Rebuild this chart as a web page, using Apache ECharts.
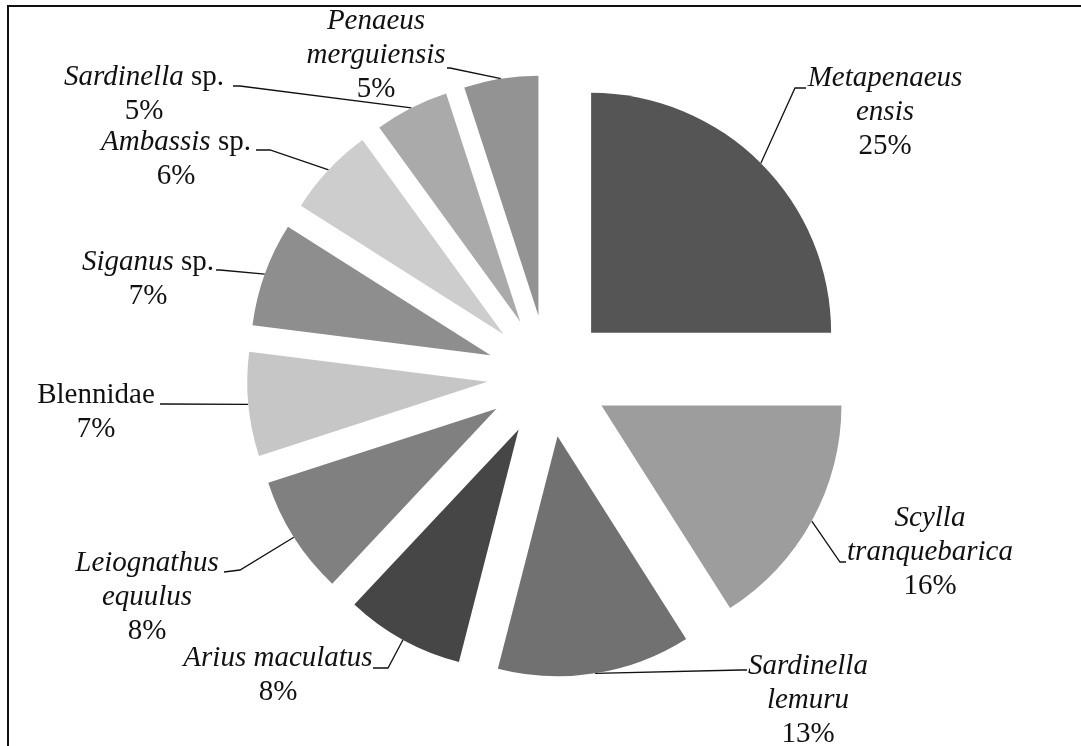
<!DOCTYPE html>
<html>
<head>
<meta charset="utf-8">
<script src="https://cdn.jsdelivr.net/npm/echarts@6/dist/echarts.min.js"></script>
<style>
  html, body { margin: 0; padding: 0; background: #fff; overflow: hidden; }
  #frame { position: absolute; left: 7px; top: 5px; width: 1200px; height: 900px;
           border-left: 2px solid #111; border-top: 2px solid #111; }
  #main { position: absolute; left: 0; top: 0; width: 1081px; height: 746px; }
</style>
</head>
<body>
<div id="frame"></div>
<div id="main"></div>
<script>
// catch composition, share of each taxon (%)
const species = ['Metapenaeus ensis', 'Scylla tranquebarica', 'Sardinella lemuru', 'Arius maculatus',
  'Leiognathus equulus', 'Blennidae', 'Siganus sp.', 'Ambassis sp.', 'Sardinella sp.', 'Penaeus merguiensis'];
const shares = [25, 16, 13, 8, 8, 7, 7, 6, 5, 5];
const greys = ['#555555', '#9d9d9d', '#717171', '#464646', '#808080', '#c6c6c6', '#8e8e8e', '#cdcdcd', '#aaaaaa', '#939393'];

// how each name is broken over lines: i = italic, n = upright
const nameLines = [
  ['{i|Metapenaeus}', '{i|ensis}'],
  ['{i|Scylla}', '{i|tranquebarica}'],
  ['{i|Sardinella}', '{i|lemuru}'],
  ['{i|Arius maculatus}'],
  ['{i|Leiognathus}', '{i|equulus}'],
  ['{n|Blennidae}'],
  ['{i|Siganus}{n| sp.}'],
  ['{i|Ambassis}{n| sp.}'],
  ['{i|Sardinella}{n| sp.}'],
  ['{i|Penaeus}', '{i|merguiensis}']
];

const pieCenter = [548, 376];
const pieRadius = 240;
const explode = 61;

// label placement: centre x, top y, then elbow and end of the leader line
const spots = [
  [885, 61, [795, 88], [806, 88]],
  [930, 501, [840, 562], [846, 562]],
  [808, 649, [741, 670], [747, 670]],
  [278, 641, [388, 668], [373, 668]],
  [147, 546, [240, 570], [224, 572]],
  [96, 378, [165, 404], [160, 404]],
  [148, 245, [220, 270], [216, 270]],
  [176, 125, [270, 150], [256, 150]],
  [144, 60, [240, 86], [233, 86]],
  [376, 4, [450, 68], [447, 68]]
];

const chart = echarts.init(document.getElementById('main'));

const font = 'Liberation Serif, Times New Roman, serif';
const pieData = species.map((name, i) => ({ name: name, value: shares[i] }));

chart.setOption({
  animation: false,
  series: [{
    // the exploded slices
    type: 'pie',
    center: pieCenter,
    radius: pieRadius,
    startAngle: 90,
    clockwise: true,
    silent: true,
    selectedMode: 'multiple',
    selectedOffset: explode,
    data: pieData.map((d, i) => ({ ...d, selected: true, itemStyle: { color: greys[i] } })),
    label: { show: false },
    labelLine: { show: false },
    select: { itemStyle: { borderWidth: 0 } }
  }, {
    // same pie, invisible, only carries the labels and leader lines
    type: 'pie',
    center: pieCenter,
    radius: pieRadius,
    startAngle: 90,
    clockwise: true,
    silent: true,
    data: pieData,
    itemStyle: { color: 'rgba(0,0,0,0)' },
    label: {
      show: true,
      position: 'outside',
      formatter: p => nameLines[p.dataIndex].join('\n') + '\n{n|' + Math.round(p.percent) + '%}',
      rich: {
        i: { fontFamily: font, fontStyle: 'italic', fontSize: 29, lineHeight: 34, color: '#111', align: 'center' },
        n: { fontFamily: font, fontSize: 29, lineHeight: 34, color: '#111', align: 'center' }
      }
    },
    labelLine: {
      show: true,
      smooth: false,
      lineStyle: { color: '#111', width: 1.3 }
    },
    labelLayout: function (p) {
      const s = spots[p.dataIndex];
      // push the start of the leader out to the exploded arc
      const a = p.labelLinePoints[0];
      const k = (pieRadius + explode) / pieRadius;
      const start = [pieCenter[0] + (a[0] - pieCenter[0]) * k, pieCenter[1] + (a[1] - pieCenter[1]) * k];
      return {
        x: s[0],
        y: s[1],
        align: 'center',
        verticalAlign: 'top',
        labelLinePoints: [start, s[2], s[3]]
      };
    }
  }]
});
</script>
</body>
</html>
